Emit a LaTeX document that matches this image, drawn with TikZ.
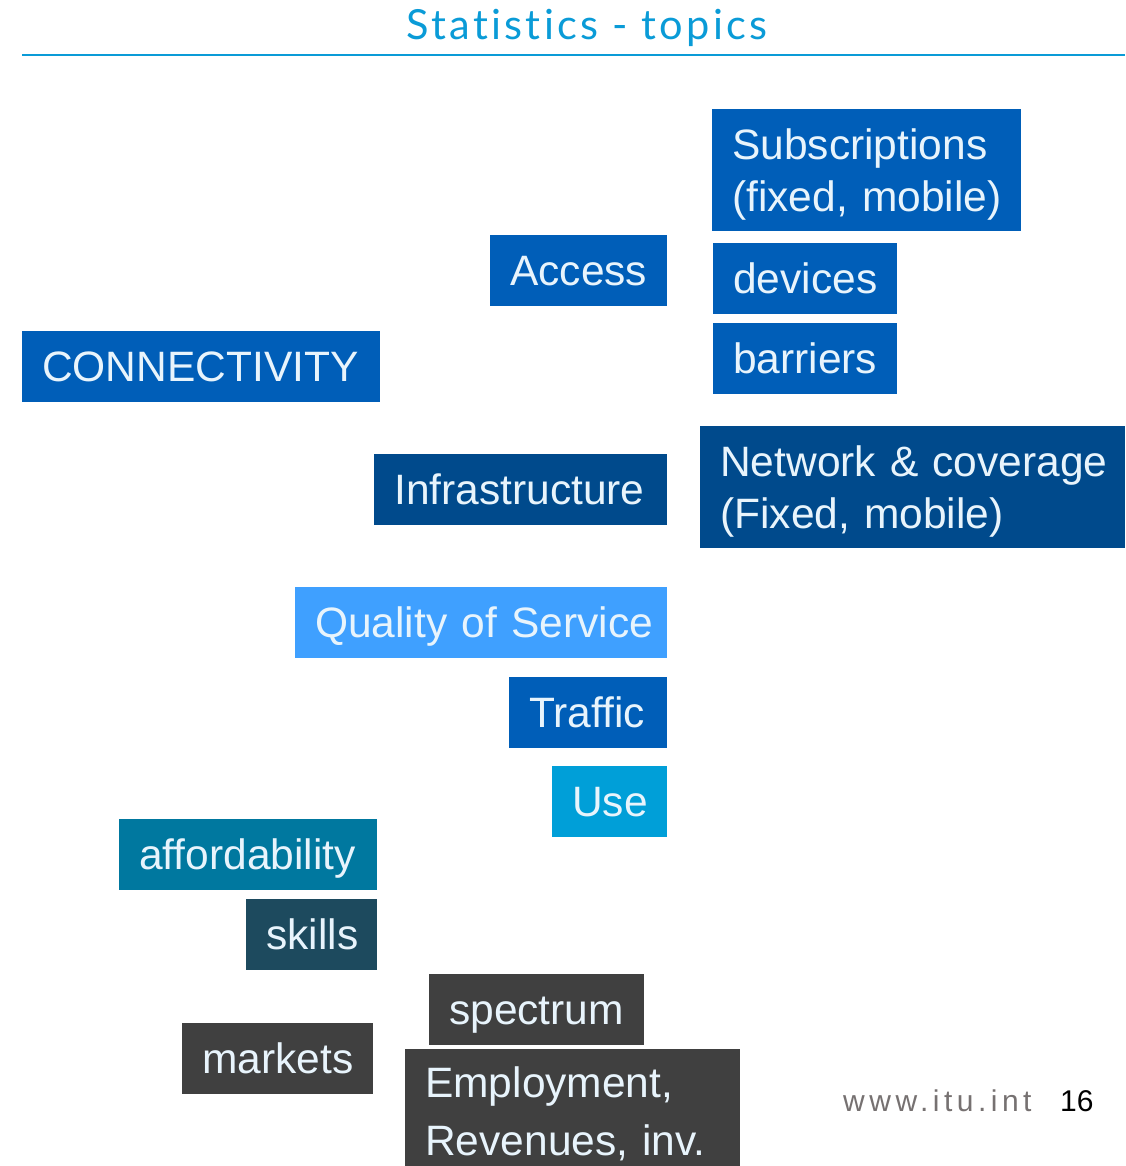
\documentclass[tikz,border=0pt]{standalone}
\usepackage{fontspec}
\setmainfont{Liberation Sans}
\newfontfamily\titlefont[Ligatures=NoCommon]{Lato}

\definecolor{cblue}{HTML}{005EB8}
\definecolor{cnavy}{HTML}{004A8C}
\definecolor{csky}{HTML}{3FA0FF}
\definecolor{ccyan}{HTML}{009FD8}
\definecolor{cteal}{HTML}{00789F}
\definecolor{cslate}{HTML}{1D4A5E}
\definecolor{cgray}{HTML}{404040}
\definecolor{boxtext}{HTML}{E8F4FC}
\definecolor{titleblue}{HTML}{0A9BD7}
\definecolor{footgray}{HTML}{767171}

\tikzset{
  % one-line topic box: fill colour, total width
  tbox/.style 2 args={fill=#1, text=boxtext, draw=none,
    font=\fontsize{42.5}{52}\selectfont,
    execute at begin node={\frenchspacing\hyphenpenalty=10000\exhyphenpenalty=10000},
    anchor=north west, inner xsep=20pt, inner ysep=0pt,
    text width=#2pt-40pt, align=left,
    minimum height=71pt, text height=30pt, text depth=0pt},
  % two-line topic box
  tbox2/.style 2 args={tbox={#1}{#2}, minimum height=122pt, text depth=52pt},
}

\begin{document}
\begin{tikzpicture}[x=1pt,y=-1pt]
\useasboundingbox (0,0) rectangle (1125,1166);

% heading and rule
\node[text=titleblue, inner sep=0pt, anchor=base,
  font=\titlefont\fontsize{41.5}{41.5}\selectfont\addfontfeature{LetterSpace=8}]
  (title) at (587,40) {Statistics - topics};
\draw[titleblue, line width=1.5pt] (22,55) -- (1125,55);

% connectivity topics
\node[tbox2={cblue}{309}] (subs) at (712,109) {Subscriptions\\(fixed,~mobile)};
\node[tbox={cblue}{177}] (access) at (490,235) {Access};
\node[tbox={cblue}{184}] (devices) at (713,243) {devices};
\node[tbox={cblue}{184}] (barriers) at (713,323) {barriers};
\node[tbox={cblue}{358}] (conn) at (22,331) {CONNECTIVITY};
\node[tbox2={cnavy}{425}] (network) at (700,426) {Network~\&~coverage\\(Fixed,~mobile)};
\node[tbox={cnavy}{293}] (infra) at (374,454) {Infrastructure};
\node[tbox={csky}{372}] (qos) at (295,587) {Quality~of~Service};
\node[tbox={cblue}{158}] (traffic) at (509,677) {Traffic};
\node[tbox={ccyan}{115}] (use) at (552,766) {Use};
\node[tbox={cteal}{258}] (afford) at (119,819) {affordability};
\node[tbox={cslate}{131}] (skills) at (246,899) {skills};
\node[tbox={cgray}{215}] (spectrum) at (429,974) {spectrum};
\node[tbox={cgray}{191}] (markets) at (182,1023) {markets};
\node[tbox2={cgray}{335}, minimum height=124pt, text height=30pt, text depth=58pt]
  (employ) at (405,1049) {Employment,\\[6pt]Revenues,~inv.};

% footer
\node[anchor=base west, text=footgray, inner sep=0pt,
  font=\fontsize{30}{30}\selectfont\addfontfeature{LetterSpace=15}]
  (site) at (843,1111) {www.itu.int};
\node[anchor=base west, text=black, inner sep=0pt, font=\fontsize{30}{30}\selectfont]
  (page) at (1060,1111) {16};
\end{tikzpicture}
\end{document}
